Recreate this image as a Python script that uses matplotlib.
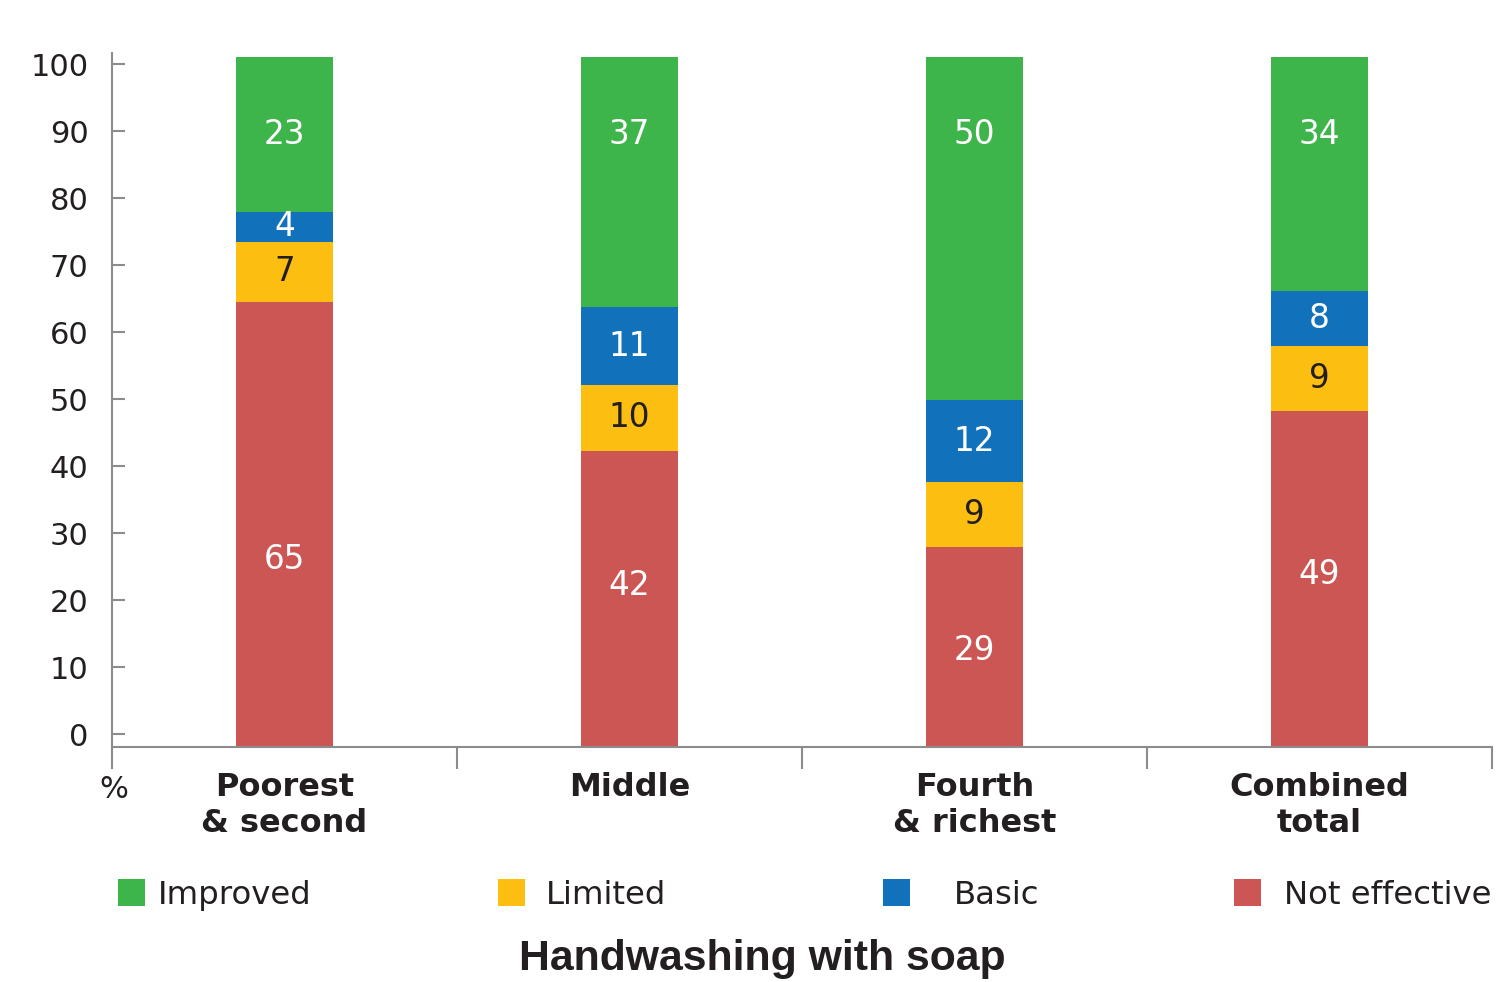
"""
Handwashing with soap: stacked bars by wealth group (percent of households).
"""

import numpy as np
import matplotlib
matplotlib.use("Agg")
import matplotlib.pyplot as plt

OUT_PATH = "out.png"

CATEGORIES = ["Poorest\n& second", "Middle", "Fourth\n& richest", "Combined\ntotal"]

# segment heights as drawn, bottom to top
NOT_EFFECTIVE = [64.5, 42.9, 29.0, 48.6]
LIMITED = [8.7, 9.5, 9.3, 9.5]
BASIC = [4.3, 11.3, 12.0, 8.0]
IMPROVED = [22.5, 36.3, 49.7, 33.9]

# values printed on the bars
NOT_EFFECTIVE_LABELS = [65, 42, 29, 49]
LIMITED_LABELS = [7, 10, 9, 9]
BASIC_LABELS = [4, 11, 12, 8]
IMPROVED_LABELS = [23, 37, 50, 34]

Y_TICKS = [0, 10, 20, 30, 40, 50, 60, 70, 80, 90, 100]

GREEN = "#3eb54a"
YELLOW = "#fdbe12"
BLUE = "#1172bb"
RED = "#cc5653"
AXIS_GREY = "#8c8c8c"
DARK = "#231f20"

W, H = 1496, 982


def main():
    fig = plt.figure(figsize=(W / 100, H / 100), dpi=100)
    ax = fig.add_axes([112 / W, 1 - 746.7 / H, 1380 / W, (746.7 - 53) / H])

    x = np.arange(len(CATEGORIES))
    width = 0.28
    series = [
        ("Not effective", NOT_EFFECTIVE, NOT_EFFECTIVE_LABELS, RED, "white"),
        ("Limited", LIMITED, LIMITED_LABELS, YELLOW, DARK),
        ("Basic", BASIC, BASIC_LABELS, BLUE, "white"),
        ("Improved", IMPROVED, IMPROVED_LABELS, GREEN, "white"),
    ]

    bottom = np.zeros(len(CATEGORIES))
    handles = {}
    red_label_y = [27.5, 23.7, 14.3, 25.3]  # where the red numbers sit in the original
    for name, vals, labels, color, txt_color in series:
        vals = np.array(vals)
        bars = ax.bar(x, vals, width, bottom=bottom, color=color, linewidth=0, label=name)
        handles[name] = bars
        for i, (v, lab) in enumerate(zip(vals, labels)):
            if name == "Improved":
                y = 88.7
            elif name == "Not effective":
                y = red_label_y[i] - 0.3
            else:
                y = bottom[i] + v / 2
            ax.text(x[i], y, str(lab), ha="center", va="center",
                    fontsize=23.5, color=txt_color)
        bottom += vals

    ax.set_xlim(-0.5, len(CATEGORIES) - 0.5)
    ax.set_ylim(0, 100.54)

    for side in ("top", "right"):
        ax.spines[side].set_visible(False)
    for side in ("left", "bottom"):
        ax.spines[side].set_color(AXIS_GREY)
        ax.spines[side].set_linewidth(1.5)

    # y tick scale in the original is slightly compressed against the bars
    ax.set_yticks([1.84 + 0.9706 * v for v in Y_TICKS])
    ax.set_yticklabels([str(v) for v in Y_TICKS])
    ax.tick_params(axis="y", direction="in", length=9.4, width=1.5, color=AXIS_GREY,
                   pad=17, labelsize=22, labelcolor=DARK)

    ax.set_xticks(x)
    ax.set_xticklabels(CATEGORIES, fontweight="bold", fontsize=23, color=DARK)
    ax.tick_params(axis="x", which="major", length=0, pad=18)
    ax.set_xticks(np.arange(-0.5, len(CATEGORIES)), minor=True)
    ax.tick_params(axis="x", which="minor", direction="out", length=15.8, width=1.5,
                   color=AXIS_GREY)

    fig.text(114 / W, 1 - 790 / H, "%", ha="center", va="center", fontsize=22, color=DARK)

    # legend, one entry at a time to keep the original spacing
    legend_spec = [
        ("Improved", 118, 0.40),
        ("Limited", 498, 0.65),
        ("Basic", 883, 1.36),
        ("Not effective", 1234, 0.72),
    ]
    for name, left, gap in legend_spec:
        fig.legend([handles[name]], [name], loc="center left",
                   bbox_to_anchor=(left / W, 1 - 895 / H), frameon=False,
                   fontsize=23.3, handlelength=0.83, handleheight=0.87,
                   handletextpad=gap, borderpad=0, borderaxespad=0,
                   labelcolor=DARK)

    fig.text(762 / W, 1 - 959 / H, "Handwashing with soap", ha="center", va="center",
             fontsize=30.8, fontweight="bold", family="Liberation Sans", color=DARK)

    fig.savefig(OUT_PATH, dpi=100)


if __name__ == "__main__":
    main()
